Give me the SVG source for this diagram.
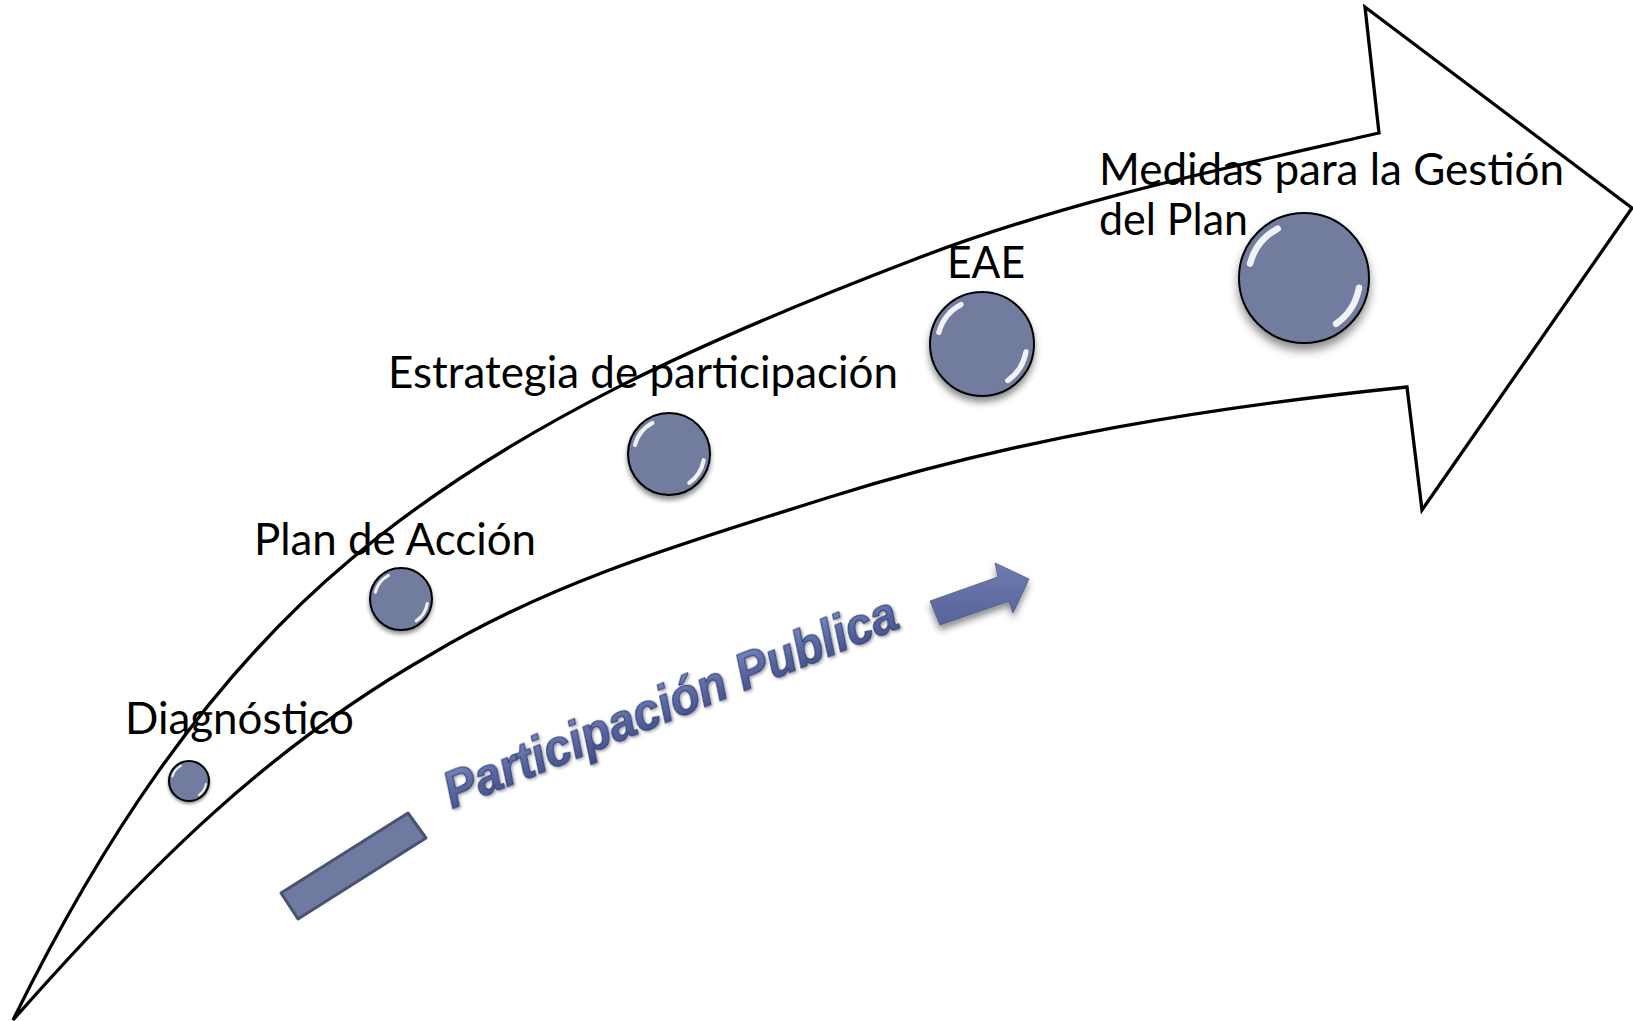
<svg xmlns="http://www.w3.org/2000/svg" xmlns:xlink="http://www.w3.org/1999/xlink" width="1633" height="1021" viewBox="0 0 1633 1021">
  <style>
    .lbl { font-family: "Lato", "Liberation Sans", "DejaVu Sans", sans-serif; font-size: 45px; fill: #000; }
    .big { fill: #fff; stroke: #000; stroke-width: 3.3; stroke-linejoin: miter; }
    .pp { font-family: "Liberation Sans", Arial, sans-serif; font-weight: bold; font-style: italic; font-size: 52px; fill: url(#ppGrad); stroke: #34417a; stroke-width: 1.2; }
  </style>
  <defs>
    <filter id="shadow" x="-30%" y="-30%" width="160%" height="170%">
      <feDropShadow dx="0" dy="5" stdDeviation="3.5" flood-color="#000" flood-opacity="0.45"/>
    </filter>
    <filter id="tshadow" x="-10%" y="-10%" width="120%" height="130%">
      <feDropShadow dx="1" dy="2" stdDeviation="1.5" flood-color="#000" flood-opacity="0.35"/>
    </filter>
    <linearGradient id="ppGrad" x1="0" y1="0" x2="0" y2="1">
      <stop offset="0" stop-color="#8190c4"/>
      <stop offset="0.5" stop-color="#5a69a2"/>
      <stop offset="1" stop-color="#3d4b84"/>
    </linearGradient>
    <linearGradient id="arrGrad" x1="0" y1="0" x2="0" y2="1">
      <stop offset="0" stop-color="#6f7caf"/>
      <stop offset="1" stop-color="#56649a"/>
    </linearGradient>
    <g id="ball">
      <circle r="50" fill="#717c9f" stroke="#000" stroke-width="2" vector-effect="non-scaling-stroke"/>
      <path d="M-41.5,-11.1 A43,43 0 0 1 -20.2,-37.9" fill="none" stroke="#fff" stroke-width="5" stroke-linecap="round" opacity="0.9"/>
      <path d="M42.3,7.5 A43,43 0 0 1 24.7,35.2" fill="none" stroke="#fff" stroke-width="5" stroke-linecap="round" opacity="0.9"/>
    </g>
  </defs>

  <rect width="1633" height="1021" fill="#fff"/>

  <g id="connectors">
    <path class="big" d="M13,1020 C97,849 204,682 350,560 C513,423 714,336 913,260 C1063,202 1222,169 1379,133 L1365,7 L1632,208 L1422,510 L1407,387 C1212,407 1017,438 830,497 C694,540 554,580 430,655 C269,747 152,863 13,1020 Z"/>
  </g>

  <g id="node-diagnostico">
    <use xlink:href="#ball" href="#ball" transform="translate(189,781) scale(0.4)" filter="url(#shadow)"/>
    <text class="lbl" x="125" y="734" textLength="229" lengthAdjust="spacingAndGlyphs">Diagnóstico</text>
  </g>

  <g id="node-plan-accion">
    <use xlink:href="#ball" href="#ball" transform="translate(401,599) scale(0.62)" filter="url(#shadow)"/>
    <text class="lbl" x="254" y="555" textLength="282" lengthAdjust="spacingAndGlyphs">Plan de Acción</text>
  </g>

  <g id="node-estrategia">
    <use xlink:href="#ball" href="#ball" transform="translate(669,454) scale(0.82)" filter="url(#shadow)"/>
    <text class="lbl" x="388" y="388" textLength="510" lengthAdjust="spacingAndGlyphs">Estrategia de participación</text>
  </g>

  <g id="node-eae">
    <use xlink:href="#ball" href="#ball" transform="translate(982,344) scale(1.04)" filter="url(#shadow)"/>
    <text class="lbl" x="947" y="278" textLength="78" lengthAdjust="spacingAndGlyphs">EAE</text>
  </g>

  <g id="node-medidas">
    <use xlink:href="#ball" href="#ball" transform="translate(1304,278) scale(1.3)" filter="url(#shadow)"/>
    <text class="lbl" x="1099" y="185" textLength="465" lengthAdjust="spacingAndGlyphs">Medidas para la Gestión</text>
    <text class="lbl" x="1099" y="235" textLength="149" lengthAdjust="spacingAndGlyphs">del Plan</text>
  </g>

  <g id="participacion-publica">
    <polygon points="281,893 408,813 426,838 298,919" fill="#6e7aa0" stroke="#4a5270" stroke-width="3" stroke-linejoin="round"/>
    <text class="pp" transform="translate(452,809) rotate(-22)" textLength="485" lengthAdjust="spacingAndGlyphs" filter="url(#tshadow)">Participación Publica</text>
    <polygon points="930,601 998,577 995,563 1029,579 1013,613 1009,601 940,625" fill="url(#arrGrad)" stroke="#4c5988" stroke-width="0.8" filter="url(#shadow)"/>
  </g>
</svg>
